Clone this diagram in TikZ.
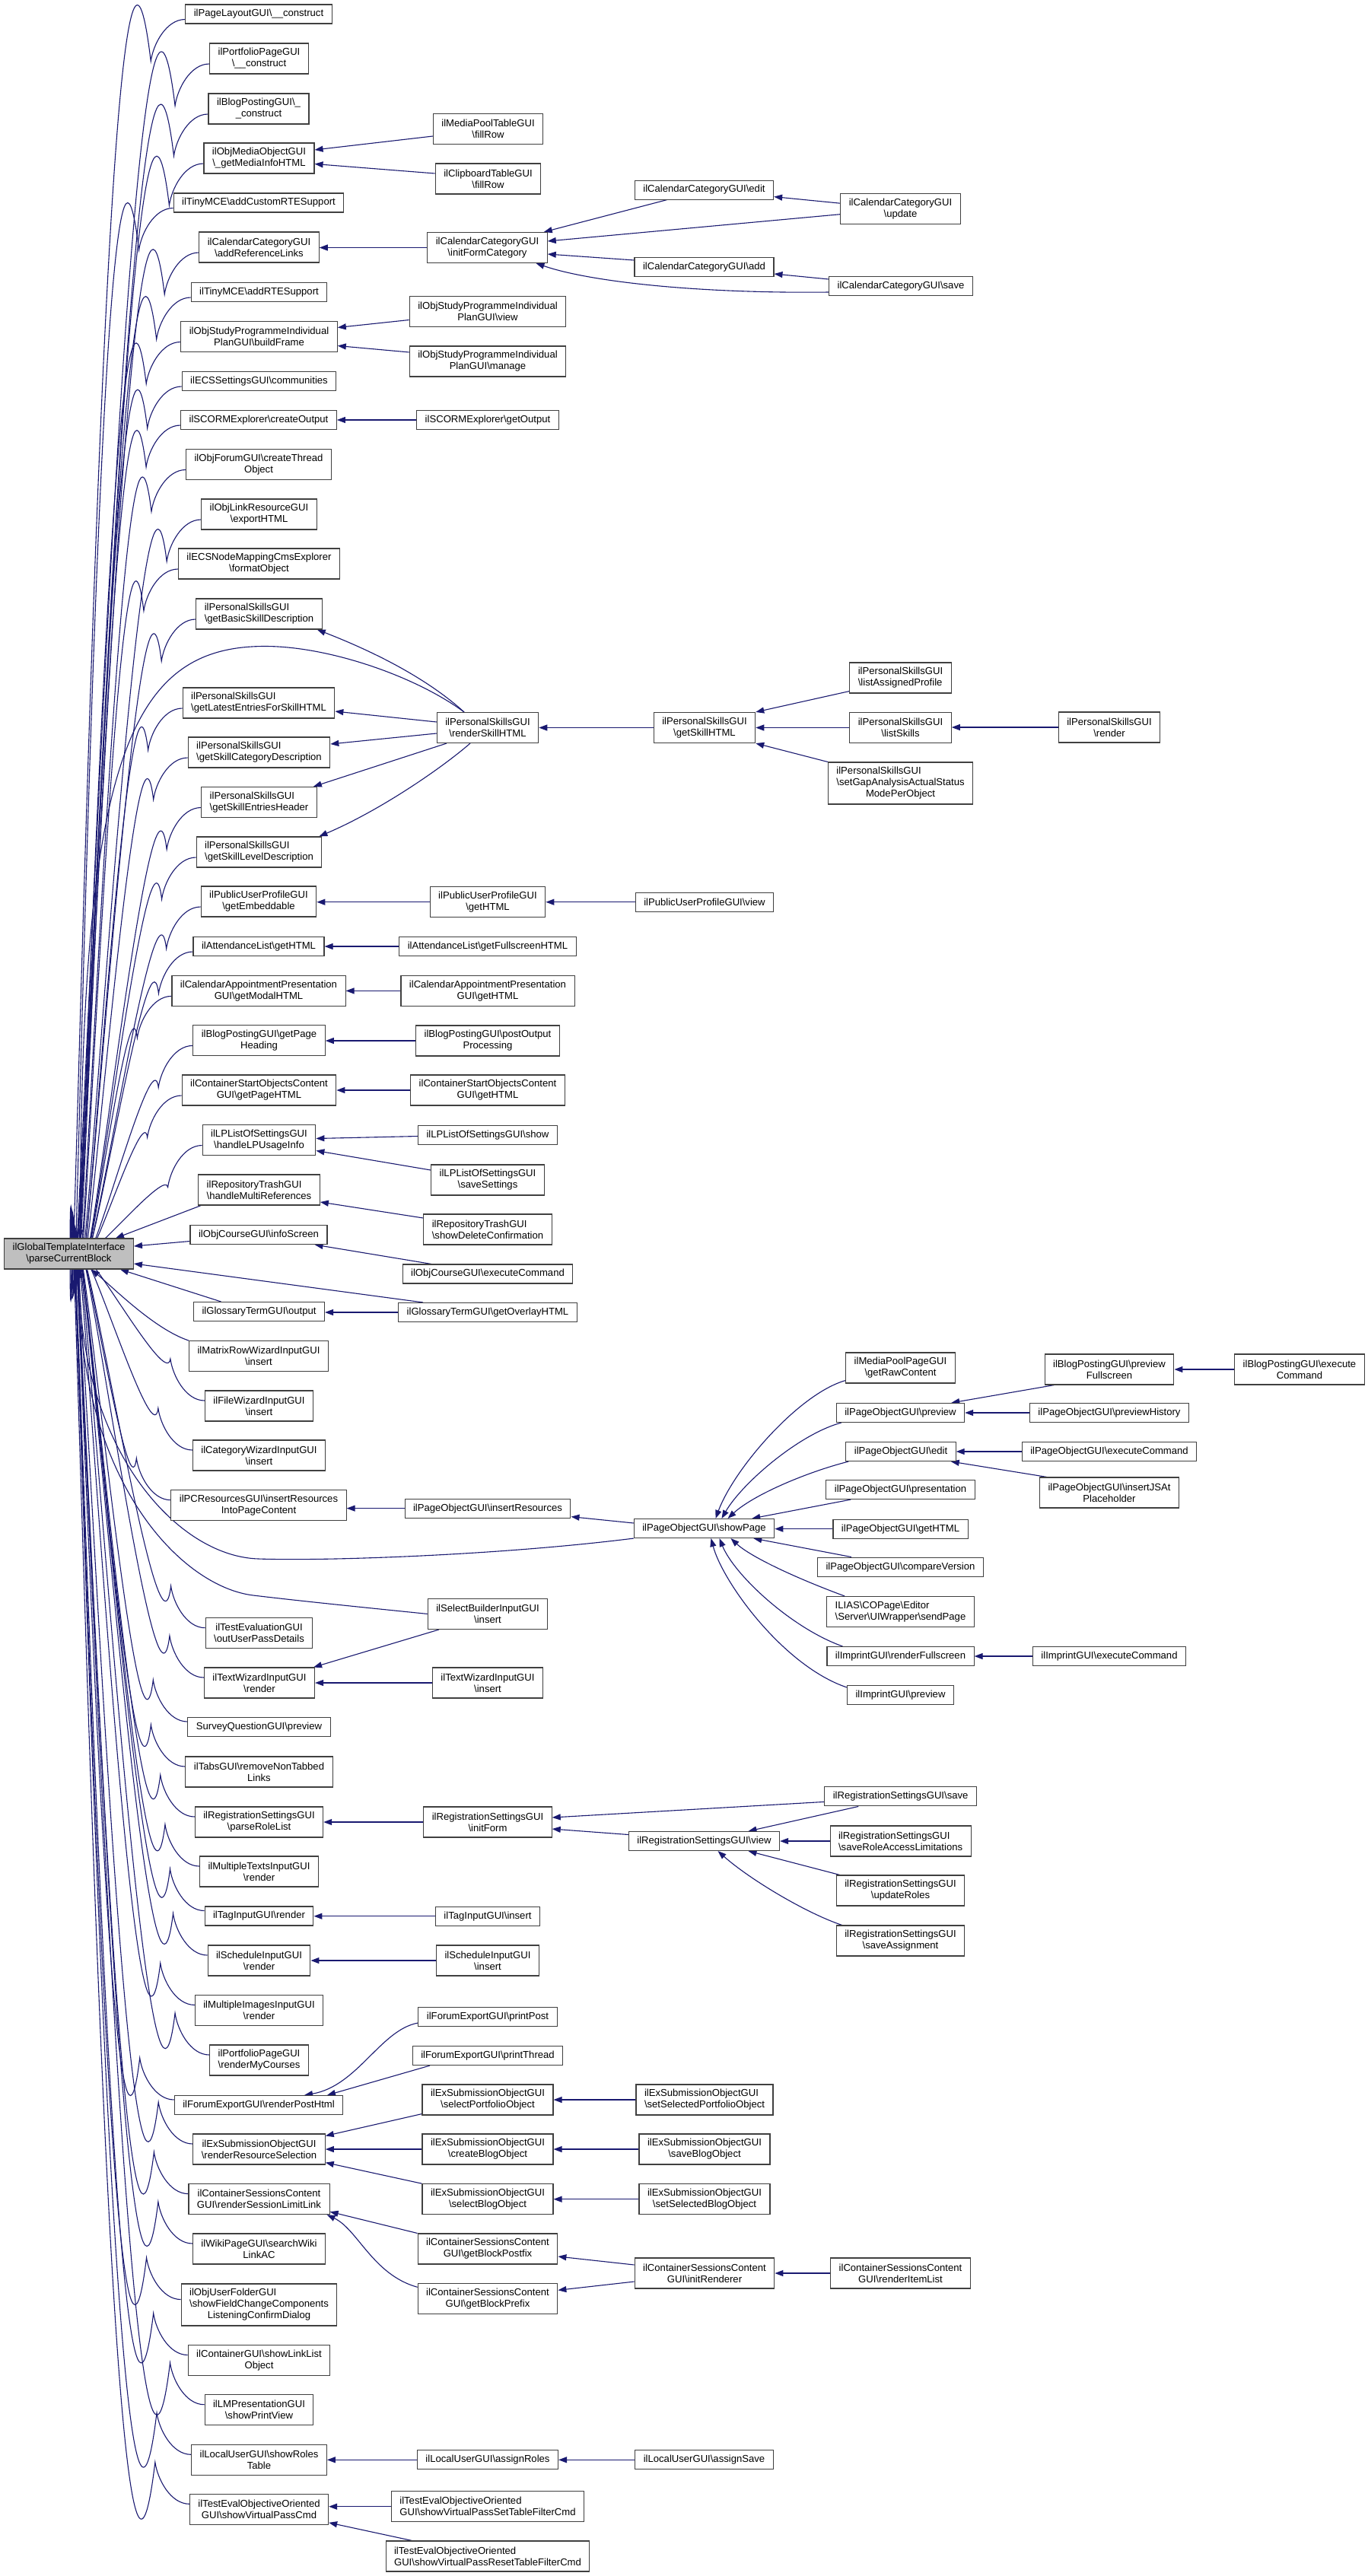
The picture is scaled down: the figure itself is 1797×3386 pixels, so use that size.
\documentclass[tikz,border=0pt]{standalone}
\usepackage{fontspec}
\setmainfont{Liberation Sans}
\usetikzlibrary{arrows.meta,calc}
\pgfdeclarelayer{edgelayer}
\pgfsetlayers{edgelayer,main}
\definecolor{edgec}{HTML}{191970}
\definecolor{boxc}{HTML}{404040}
\definecolor{rootc}{HTML}{BFBFBF}
\newcommand\bsl{\textbackslash}
\newcommand\nodefont{\fontsize{13.1}{15}\selectfont}
\tikzset{
  nb/.style={draw=boxc, line width=1.1pt, fill=white, inner xsep=11pt, inner ysep=0pt, font=\nodefont},
  b1/.style={nb, align=center, minimum height=25pt},
  b2/.style={nb, align=center, minimum height=40pt},
  t3/.style={nb, minimum height=55pt},
  arr/.style={draw=edgec, line width=1.1pt, -{Triangle[length=11pt,width=8pt]}},
}
\newcommand\upfan[2]{\draw[arr] let \p1=([yshift=-7pt]#1.west), \p2=($(root.north)+(#2,0)$), \p3=($(\p1)+(-45,55)$), \n1={0.35*abs((\y2)-(\y3))} in (\p1) .. controls +(-25,0) and +(3,-22) .. (\p3) .. controls +({-0.12*\n1},\n1) and +(0,{-\n1}) .. (\p2);}
\newcommand\downfan[2]{\draw[arr] let \p1=([yshift=7pt]#1.west), \p2=($(root.south)+(#2,0)$), \p3=($(\p1)+(-45,-55)$), \n1={0.35*abs((\y2)-(\y3))} in (\p1) .. controls +(-25,0) and +(3,22) .. (\p3) .. controls +({-0.12*\n1},{-\n1}) and +(0,\n1) .. (\p2);}
\newcommand\hedge[2]{\draw[arr] (#1.west) -- (#1.west -| #2.east);}
\begin{document}
\begin{tikzpicture}[x=1pt,y=-1pt]
\useasboundingbox (0,0) rectangle (1797,3386);
% ---------- root ----------
\node[b2, fill=rootc] (root) at (90.5,1648) {ilGlobalTemplateInterface\\\bsl parseCurrentBlock};
% ---------- column 2 ----------
\node[b1] (pagelayout) at (340,18.5) {ilPageLayoutGUI\bsl\_\_construct};
\node[b2] (portfolio) at (340.5,77) {ilPortfolioPageGUI\\\bsl\_\_construct};
\node[b2] (blogcons) at (340,143) {ilBlogPostingGUI\bsl\_\\\_construct};
\node[b2] (objmedia) at (340.5,208) {ilObjMediaObjectGUI\\\bsl\_getMediaInfoHTML};
\node[b1] (tinycustom) at (340,266.5) {ilTinyMCE\bsl addCustomRTESupport};
\node[b2] (calref) at (340.5,325) {ilCalendarCategoryGUI\\\bsl addReferenceLinks};
\node[b1] (tinyrte) at (340.5,384) {ilTinyMCE\bsl addRTESupport};
\node[b2] (studybuild) at (340.5,442.5) {ilObjStudyProgrammeIndividual\\PlanGUI\bsl buildFrame};
\node[b1] (ecssettings) at (340.5,501) {ilECSSettingsGUI\bsl communities};
\node[b1] (scormcreate) at (340,552) {ilSCORMExplorer\bsl createOutput};
\node[b2] (forumthread) at (340,610.5) {ilObjForumGUI\bsl createThread\\Object};
\node[b2] (linkres) at (340.5,676) {ilObjLinkResourceGUI\\\bsl exportHTML};
\node[b2] (ecsnode) at (340.5,741) {ilECSNodeMappingCmsExplorer\\\bsl formatObject};
\node[b2,align=left] (basicskill) at (340.5,807) {ilPersonalSkillsGUI\\\bsl getBasicSkillDescription};
\node[b2,align=left] (latest) at (340,924) {ilPersonalSkillsGUI\\\bsl getLatestEntriesForSkillHTML};
\node[b2,align=left] (skillcat) at (340.5,989) {ilPersonalSkillsGUI\\\bsl getSkillCategoryDescription};
\node[b2,align=left] (entries) at (340.5,1054.5) {ilPersonalSkillsGUI\\\bsl getSkillEntriesHeader};
\node[b2,align=left] (leveldesc) at (340.5,1120) {ilPersonalSkillsGUI\\\bsl getSkillLevelDescription};
\node[b2] (embeddable) at (340,1185) {ilPublicUserProfileGUI\\\bsl getEmbeddable};
\node[b1] (attgethtml) at (340,1244) {ilAttendanceList\bsl getHTML};
\node[b2] (calmodal) at (340,1302.4) {ilCalendarAppointmentPresentation\\GUI\bsl getModalHTML};
\node[b2] (blogpage) at (340.5,1367.4) {ilBlogPostingGUI\bsl getPage\\Heading};
\node[b2] (csopage) at (340.5,1433) {ilContainerStartObjectsContent\\GUI\bsl getPageHTML};
\node[b2] (lphandle) at (340.5,1498.5) {ilLPListOfSettingsGUI\\\bsl handleLPUsageInfo};
\node[b2,align=left] (repo) at (340.5,1564) {ilRepositoryTrashGUI\\\bsl handleMultiReferences};
\node[b1] (infoscreen) at (340,1623) {ilObjCourseGUI\bsl infoScreen};
\node[b1] (glossout) at (340.5,1724) {ilGlossaryTermGUI\bsl output};
\node[b2] (matrix) at (340,1782.6) {ilMatrixRowWizardInputGUI\\\bsl insert};
\node[b2] (filewiz) at (340.5,1848) {ilFileWizardInputGUI\\\bsl insert};
\node[b2] (catwiz) at (340.5,1913) {ilCategoryWizardInputGUI\\\bsl insert};
\node[b2] (pcres) at (340,1978.7) {ilPCResourcesGUI\bsl insertResources\\IntoPageContent};
\node[b2] (testeval) at (340.5,2146.7) {ilTestEvaluationGUI\\\bsl outUserPassDetails};
\node[b2] (twrender) at (341,2212) {ilTextWizardInputGUI\\\bsl render};
\node[b1] (survey) at (340.5,2270) {SurveyQuestionGUI\bsl preview};
\node[b2] (tabs) at (340.5,2329) {ilTabsGUI\bsl removeNonTabbed\\Links};
\node[b2] (parserole) at (340.5,2395) {ilRegistrationSettingsGUI\\\bsl parseRoleList};
\node[b2] (multitexts) at (340.5,2460) {ilMultipleTextsInputGUI\\\bsl render};
\node[b1] (tagrender) at (340.5,2518.5) {ilTagInputGUI\bsl render};
\node[b2] (schedrender) at (340.5,2577) {ilScheduleInputGUI\\\bsl render};
\node[b2] (multiimages) at (340.5,2642.4) {ilMultipleImagesInputGUI\\\bsl render};
\node[b2] (mycourses) at (340.5,2708) {ilPortfolioPageGUI\\\bsl renderMyCourses};
\node[b1] (postrender) at (340,2767) {ilForumExportGUI\bsl renderPostHtml};
\node[b2] (resselect) at (340.5,2825) {ilExSubmissionObjectGUI\\\bsl renderResourceSelection};
\node[b2] (sessionlimit) at (340.5,2890.6) {ilContainerSessionsContent\\GUI\bsl renderSessionLimitLink};
\node[b2] (wiki) at (340.5,2956) {ilWikiPageGUI\bsl searchWiki\\LinkAC};
\node[t3] (userfolder) at (340.5,3029.5) {\begin{tabular}{@{}l@{}}ilObjUserFolderGUI\\\bsl showFieldChangeComponents\\\multicolumn{1}{@{}c@{}}{ListeningConfirmDialog}\end{tabular}};
\node[b2] (linklist) at (340.5,3102.5) {ilContainerGUI\bsl showLinkList\\Object};
\node[b2] (lmprint) at (340.5,3167.7) {ilLMPresentationGUI\\\bsl showPrintView};
\node[b2] (showroles) at (340.5,3233.3) {ilLocalUserGUI\bsl showRoles\\Table};
\node[b2] (vpcmd) at (340.5,3298.3) {ilTestEvalObjectiveOriented\\GUI\bsl showVirtualPassCmd};
% ---------- column 3 ----------
\node[b2] (mpfill) at (641.5,169.5) {ilMediaPoolTableGUI\\\bsl fillRow};
\node[b2] (cbfill) at (641.5,235) {ilClipboardTableGUI\\\bsl fillRow};
\node[b2] (initform) at (640.5,325.5) {ilCalendarCategoryGUI\\\bsl initFormCategory};
\node[b2] (spview) at (641,409.5) {ilObjStudyProgrammeIndividual\\PlanGUI\bsl view};
\node[b2] (spmanage) at (641,475) {ilObjStudyProgrammeIndividual\\PlanGUI\bsl manage};
\node[b1] (scormget) at (641,552) {ilSCORMExplorer\bsl getOutput};
\node[b2] (renderskill) at (641,956.5) {ilPersonalSkillsGUI\\\bsl renderSkillHTML};
\node[b2] (pupgethtml) at (641,1185.7) {ilPublicUserProfileGUI\\\bsl getHTML};
\node[b1] (attfull) at (641,1244) {ilAttendanceList\bsl getFullscreenHTML};
\node[b2] (calappgethtml) at (641,1302.4) {ilCalendarAppointmentPresentation\\GUI\bsl getHTML};
\node[b2] (postoutput) at (641,1368) {ilBlogPostingGUI\bsl postOutput\\Processing};
\node[b2] (csogethtml) at (641,1433) {ilContainerStartObjectsContent\\GUI\bsl getHTML};
\node[b1] (lpshow) at (641,1492) {ilLPListOfSettingsGUI\bsl show};
\node[b2] (lpsave) at (641,1551) {ilLPListOfSettingsGUI\\\bsl saveSettings};
\node[b2,align=left] (showdel) at (641,1616) {ilRepositoryTrashGUI\\\bsl showDeleteConfirmation};
\node[b1] (crsexec) at (641,1674.5) {ilObjCourseGUI\bsl executeCommand};
\node[b1] (overlay) at (641,1725) {ilGlossaryTermGUI\bsl getOverlayHTML};
\node[b1] (insertres) at (641,1982.6) {ilPageObjectGUI\bsl insertResources};
\node[b2] (selbuild) at (641,2121.4) {ilSelectBuilderInputGUI\\\bsl insert};
\node[b2] (twinsert) at (641,2212) {ilTextWizardInputGUI\\\bsl insert};
\node[b2] (reginit) at (641,2395) {ilRegistrationSettingsGUI\\\bsl initForm};
\node[b1] (taginsert) at (641,2518.7) {ilTagInputGUI\bsl insert};
\node[b2] (schedinsert) at (641,2577) {ilScheduleInputGUI\\\bsl insert};
\node[b1] (printpost) at (641,2651) {ilForumExportGUI\bsl printPost};
\node[b1] (printthread) at (641,2702) {ilForumExportGUI\bsl printThread};
\node[b2] (selportfolio) at (641,2760) {ilExSubmissionObjectGUI\\\bsl selectPortfolioObject};
\node[b2] (createblog) at (641,2825) {ilExSubmissionObjectGUI\\\bsl createBlogObject};
\node[b2] (selblog) at (641,2890.7) {ilExSubmissionObjectGUI\\\bsl selectBlogObject};
\node[b2] (blockpostfix) at (641,2956) {ilContainerSessionsContent\\GUI\bsl getBlockPostfix};
\node[b2] (blockprefix) at (641,3021.3) {ilContainerSessionsContent\\GUI\bsl getBlockPrefix};
\node[b1] (assignroles) at (641,3233.3) {ilLocalUserGUI\bsl assignRoles};
\node[b2,align=left] (vpset) at (641,3294.7) {ilTestEvalObjectiveOriented\\GUI\bsl showVirtualPassSetTableFilterCmd};
\node[b2,align=left] (vpreset) at (641,3360) {ilTestEvalObjectiveOriented\\GUI\bsl showVirtualPassResetTableFilterCmd};
% ---------- column 4 ----------
\node[b1] (catedit) at (925.5,249.6) {ilCalendarCategoryGUI\bsl edit};
\node[b1] (catadd) at (925.5,351) {ilCalendarCategoryGUI\bsl add};
\node[b2] (getskill) at (926,956.5) {ilPersonalSkillsGUI\\\bsl getSkillHTML};
\node[b1] (pupview) at (926,1185.7) {ilPublicUserProfileGUI\bsl view};
\node[b1] (showpage) at (925.5,2009) {ilPageObjectGUI\bsl showPage};
\node[b1] (regview) at (925.5,2420) {ilRegistrationSettingsGUI\bsl view};
\node[b2,align=left] (setselport) at (926,2760) {ilExSubmissionObjectGUI\\\bsl setSelectedPortfolioObject};
\node[b2] (saveblog) at (926,2825) {ilExSubmissionObjectGUI\\\bsl saveBlogObject};
\node[b2] (setselblog) at (926,2890.7) {ilExSubmissionObjectGUI\\\bsl setSelectedBlogObject};
\node[b2] (initrenderer) at (926,2988) {ilContainerSessionsContent\\GUI\bsl initRenderer};
\node[b1] (assignsave) at (925.5,3233.3) {ilLocalUserGUI\bsl assignSave};
% ---------- column 5 ----------
\node[b2] (catupdate) at (1183.5,274.7) {ilCalendarCategoryGUI\\\bsl update};
\node[b1] (catsave) at (1184,376) {ilCalendarCategoryGUI\bsl save};
\node[b2,align=left] (listassigned) at (1183.5,891) {ilPersonalSkillsGUI\\\bsl listAssignedProfile};
\node[b2] (listskills) at (1183.5,956.5) {ilPersonalSkillsGUI\\\bsl listSkills};
\node[t3] (setgap) at (1183.5,1029.5) {\begin{tabular}{@{}l@{}}ilPersonalSkillsGUI\\\bsl setGapAnalysisActualStatus\\\multicolumn{1}{@{}c@{}}{ModePerObject}\end{tabular}};
\node[b2] (mpgetraw) at (1183.5,1798) {ilMediaPoolPageGUI\\\bsl getRawContent};
\node[b1] (popreview) at (1183.5,1857) {ilPageObjectGUI\bsl preview};
\node[b1] (poedit) at (1184,1908) {ilPageObjectGUI\bsl edit};
\node[b1] (popresent) at (1183.5,1958) {ilPageObjectGUI\bsl presentation};
\node[b1] (pogethtml) at (1183.5,2009.6) {ilPageObjectGUI\bsl getHTML};
\node[b1] (pocompare) at (1183.5,2059.6) {ilPageObjectGUI\bsl compareVersion};
\node[b2,align=left] (sendpage) at (1183.5,2118.5) {ILIAS\bsl COPage\bsl Editor\\\bsl Server\bsl UIWrapper\bsl sendPage};
\node[b1] (imprintfs) at (1183.5,2177) {ilImprintGUI\bsl renderFullscreen};
\node[b1] (imprintprev) at (1183.5,2228) {ilImprintGUI\bsl preview};
\node[b1] (regsave) at (1183.6,2361.4) {ilRegistrationSettingsGUI\bsl save};
\node[b2,align=left] (regsaverole) at (1183.6,2420) {ilRegistrationSettingsGUI\\\bsl saveRoleAccessLimitations};
\node[b2] (regupdate) at (1183.5,2485) {ilRegistrationSettingsGUI\\\bsl updateRoles};
\node[b2] (regsaveassign) at (1183.5,2551) {ilRegistrationSettingsGUI\\\bsl saveAssignment};
\node[b2] (renderitemlist) at (1183.5,2988) {ilContainerSessionsContent\\GUI\bsl renderItemList};
% ---------- column 6 / 7 ----------
\node[b2] (psrender) at (1458,956) {ilPersonalSkillsGUI\\\bsl render};
\node[b2] (blogprevfs) at (1458,1800) {ilBlogPostingGUI\bsl preview\\Fullscreen};
\node[b1] (poprevhist) at (1458,1857) {ilPageObjectGUI\bsl previewHistory};
\node[b1] (poexec) at (1458,1908) {ilPageObjectGUI\bsl executeCommand};
\node[b2] (pojs) at (1458,1962) {ilPageObjectGUI\bsl insertJSAt\\Placeholder};
\node[b1] (imprintexec) at (1458,2177) {ilImprintGUI\bsl executeCommand};
\node[b2] (blogexec) at (1708,1800) {ilBlogPostingGUI\bsl execute\\Command};

\begin{pgfonlayer}{edgelayer}
\fill[white] (0,0) rectangle (1797,3386);
% ---------- edges into root (upper fan) ----------
\upfan{pagelayout}{1.5}
\upfan{portfolio}{2.5}
\upfan{blogcons}{3.5}
\upfan{objmedia}{4.5}
\upfan{tinycustom}{5.5}
\upfan{calref}{6.5}
\upfan{tinyrte}{7.5}
\upfan{studybuild}{8.5}
\upfan{ecssettings}{9.5}
\upfan{scormcreate}{10.5}
\upfan{forumthread}{11.5}
\upfan{linkres}{12.5}
\upfan{ecsnode}{13.5}
\upfan{basicskill}{14.5}
\upfan{latest}{16}
\upfan{skillcat}{17}
\upfan{entries}{18}
\upfan{leveldesc}{19}
\upfan{embeddable}{20}
\upfan{attgethtml}{21}
\upfan{calmodal}{22.5}
\upfan{blogpage}{24.5}
\upfan{csopage}{27.5}
\upfan{lphandle}{32.5}
\draw[arr] ([xshift=4pt]repo.south west) -- ($(root.north)+(61.5,0)$);
\draw[arr] ([yshift=-8.5pt]infoscreen.west) -- ([yshift=10pt]root.east);
\draw[arr] ([xshift=-31pt]renderskill.north) .. controls (545,888) and (430,849) .. (347,849.5) .. controls (170,850) and (105.5,1000) .. ($(root.north)+(15,0)$);
% ---------- edges into root (lower fan) ----------
\draw[arr] ([xshift=-85pt]overlay.north) -- ([yshift=-13pt]root.east);
\draw[arr] ([xshift=-50pt]glossout.north) -- ($(root.south)+(67.5,0)$);
\draw[arr] (matrix.north west) .. controls +(-45,-15) and +(30,25) .. ($(root.south)+(29.5,0)$);
\downfan{filewiz}{20.5}
\downfan{catwiz}{17.5}
\downfan{pcres}{15.5}
\draw[arr] (showpage.south west) .. controls (650,2045) and (420,2052) .. (340,2049) .. controls (230,2046) and (104.5,1900) .. ($(root.south)+(14,0)$);
\draw[arr] (selbuild.west) .. controls (480,2113) and (400,2105) .. (333,2097) .. controls (240,2086) and (103.5,1950) .. ($(root.south)+(13,0)$);
\downfan{testeval}{12}
\downfan{twrender}{11}
\downfan{survey}{10}
\downfan{tabs}{9}
\downfan{parserole}{8.5}
\downfan{multitexts}{8}
\downfan{tagrender}{7.5}
\downfan{schedrender}{7}
\downfan{multiimages}{6.5}
\downfan{mycourses}{6}
\downfan{postrender}{5.5}
\downfan{resselect}{5}
\downfan{sessionlimit}{4.5}
\downfan{wiki}{4}
\downfan{userfolder}{3.5}
\downfan{linklist}{3}
\downfan{lmprint}{2.5}
\downfan{showroles}{2}
\downfan{vpcmd}{1.5}

% ---------- horizontal edges ----------
\hedge{initform}{calref}
\hedge{scormget}{scormcreate}
\hedge{getskill}{renderskill}
\hedge{listskills}{getskill}
\hedge{psrender}{listskills}
\hedge{pupgethtml}{embeddable}
\hedge{pupview}{pupgethtml}
\hedge{attfull}{attgethtml}
\hedge{calappgethtml}{calmodal}
\hedge{postoutput}{blogpage}
\hedge{csogethtml}{csopage}
\hedge{overlay}{glossout}
\hedge{insertres}{pcres}
\hedge{pogethtml}{showpage}
\hedge{poprevhist}{popreview}
\hedge{poexec}{poedit}
\hedge{blogexec}{blogprevfs}
\hedge{imprintexec}{imprintfs}
\hedge{twinsert}{twrender}
\hedge{reginit}{parserole}
\hedge{regsaverole}{regview}
\hedge{taginsert}{tagrender}
\hedge{schedinsert}{schedrender}
\hedge{setselport}{selportfolio}
\hedge{saveblog}{createblog}
\hedge{setselblog}{selblog}
\hedge{createblog}{resselect}
\hedge{renderitemlist}{initrenderer}
\hedge{assignroles}{showroles}
\hedge{assignsave}{assignroles}
\hedge{vpset}{vpcmd}

% ---------- other edges ----------
\draw[arr] ([yshift=-9.5pt]mpfill.west) -- ([yshift=11pt]objmedia.east);
\draw[arr] ([yshift=7pt]cbfill.west) -- ([yshift=-7.5pt]objmedia.east);
\draw[arr] ([xshift=-49pt]catedit.south) -- ([xshift=-5pt]initform.north east);
\draw[arr] ([yshift=-7pt]catupdate.west) -- ([yshift=8.5pt]initform.east);
\draw[arr] ([yshift=9pt]catadd.west) -- ([yshift=-8.5pt]initform.east);
\draw[arr] ([yshift=-8pt]catsave.west) .. controls (930,386) and (780,372) .. ([xshift=64pt]initform.south);
\draw[arr] ([yshift=7.5pt]catupdate.west) -- ([yshift=-9pt]catedit.east);
\draw[arr] ([yshift=9pt]catsave.west) -- ([yshift=-9pt]catadd.east);
\draw[arr] ([yshift=-11pt]spview.west) -- ([yshift=12pt]studybuild.east);
\draw[arr] ([yshift=12pt]spmanage.west) -- ([yshift=-12pt]studybuild.east);

\draw[arr] ([xshift=-31pt]renderskill.north) .. controls (565,895) and (500,860) .. ([xshift=-7pt]basicskill.south east);
\draw[arr] ([yshift=7.5pt]renderskill.west) -- ([yshift=-11pt]latest.east);
\draw[arr] ([yshift=-7.5pt]renderskill.west) -- ([yshift=11pt]skillcat.east);
\draw[arr] ([xshift=-54pt]renderskill.south) -- ([xshift=-5pt]entries.north east);
\draw[arr] ([xshift=-23pt]renderskill.south) .. controls (580,1010) and (500,1065) .. ([xshift=-4pt]leveldesc.north east);
\draw[arr] ([yshift=3pt]listassigned.south west) -- (getskill.north east);
\draw[arr] (setgap.north west) -- (getskill.south east);

\draw[arr] ([yshift=-1.5pt]lpshow.west) -- ([yshift=2pt]lphandle.east);
\draw[arr] ([yshift=13pt]lpsave.west) -- ([yshift=-14pt]lphandle.east);
\draw[arr] ([yshift=15pt]showdel.west) -- ([yshift=-16pt]repo.east);
\draw[arr] ([xshift=-74pt]crsexec.north) -- ([xshift=-17pt]infoscreen.south east);

\draw[arr] ([yshift=7pt]showpage.west) -- ([yshift=-11pt]insertres.east);
\draw[arr] ([yshift=4pt]mpgetraw.south west) .. controls (1050,1832) and (965,1930) .. ([xshift=15pt]showpage.north);
\draw[arr] ([xshift=7pt]popreview.south west) .. controls (1050,1885) and (975,1950) .. ([xshift=23pt]showpage.north);
\draw[arr] ([xshift=4pt]poedit.south west) .. controls (1060,1935) and (990,1965) .. ([xshift=31pt]showpage.north);
\draw[arr] ([xshift=33pt]popresent.south west) -- ([xshift=-30pt]showpage.north east);
\draw[arr] ([xshift=45pt]pocompare.north west) -- ([xshift=-28pt]showpage.south east);
\draw[arr] ([xshift=24pt]sendpage.north west) .. controls (1040,2072) and (985,2045) .. ([xshift=35pt]showpage.south);
\draw[arr] ([xshift=21pt]imprintfs.north west) .. controls (1040,2140) and (965,2070) .. ([xshift=20pt]showpage.south);
\draw[arr] ([yshift=-3pt]imprintprev.north west) .. controls (1030,2190) and (950,2080) .. ([xshift=9pt]showpage.south);
\draw[arr] ([xshift=13pt]blogprevfs.south west) -- ([xshift=-18pt]popreview.north east);
\draw[arr] ([xshift=10pt]pojs.north west) -- ([xshift=-7pt]poedit.south east);

\draw[arr] ([xshift=-64pt]selbuild.south) -- ([xshift=-2pt]twrender.north east);
\draw[arr] ([yshift=8.5pt]regview.west) -- ([yshift=-9pt]reginit.east);
\draw[arr] ([yshift=-7pt]regsave.west) -- ([yshift=6pt]reginit.east);
\draw[arr] ([xshift=45pt]regsave.south west) -- ([xshift=58pt]regview.north);
\draw[arr] ([xshift=5pt]regupdate.north west) -- ([xshift=58pt]regview.south);
\draw[arr] ([xshift=8pt]regsaveassign.north west) .. controls (1060,2515) and (985,2470) .. ([xshift=18pt]regview.south);

\draw[arr] ([yshift=-8pt]printpost.west) .. controls (500,2668) and (470,2742) .. ([xshift=60pt]postrender.north);
\draw[arr] ([xshift=-76pt]printthread.south) -- ([xshift=90pt]postrender.north);
\draw[arr] ([yshift=2pt]selportfolio.south west) -- ([yshift=-3pt]resselect.north east);
\draw[arr] (selblog.north west) -- ([yshift=3pt]resselect.south east);
\draw[arr] (blockpostfix.north west) -- ([yshift=4pt]sessionlimit.south east);
\draw[arr] ([yshift=15pt]blockprefix.west) .. controls (490,2990) and (470,2930) .. ([xshift=-4pt]sessionlimit.south east);
\draw[arr] ([yshift=11pt]initrenderer.west) -- ([yshift=-10pt]blockpostfix.east);
\draw[arr] ([yshift=-11pt]initrenderer.west) -- ([yshift=11pt]blockprefix.east);
\draw[arr] ([xshift=35pt]vpreset.north west) -- ([yshift=3pt]vpcmd.south east);
\end{pgfonlayer}
\end{tikzpicture}
\end{document}
